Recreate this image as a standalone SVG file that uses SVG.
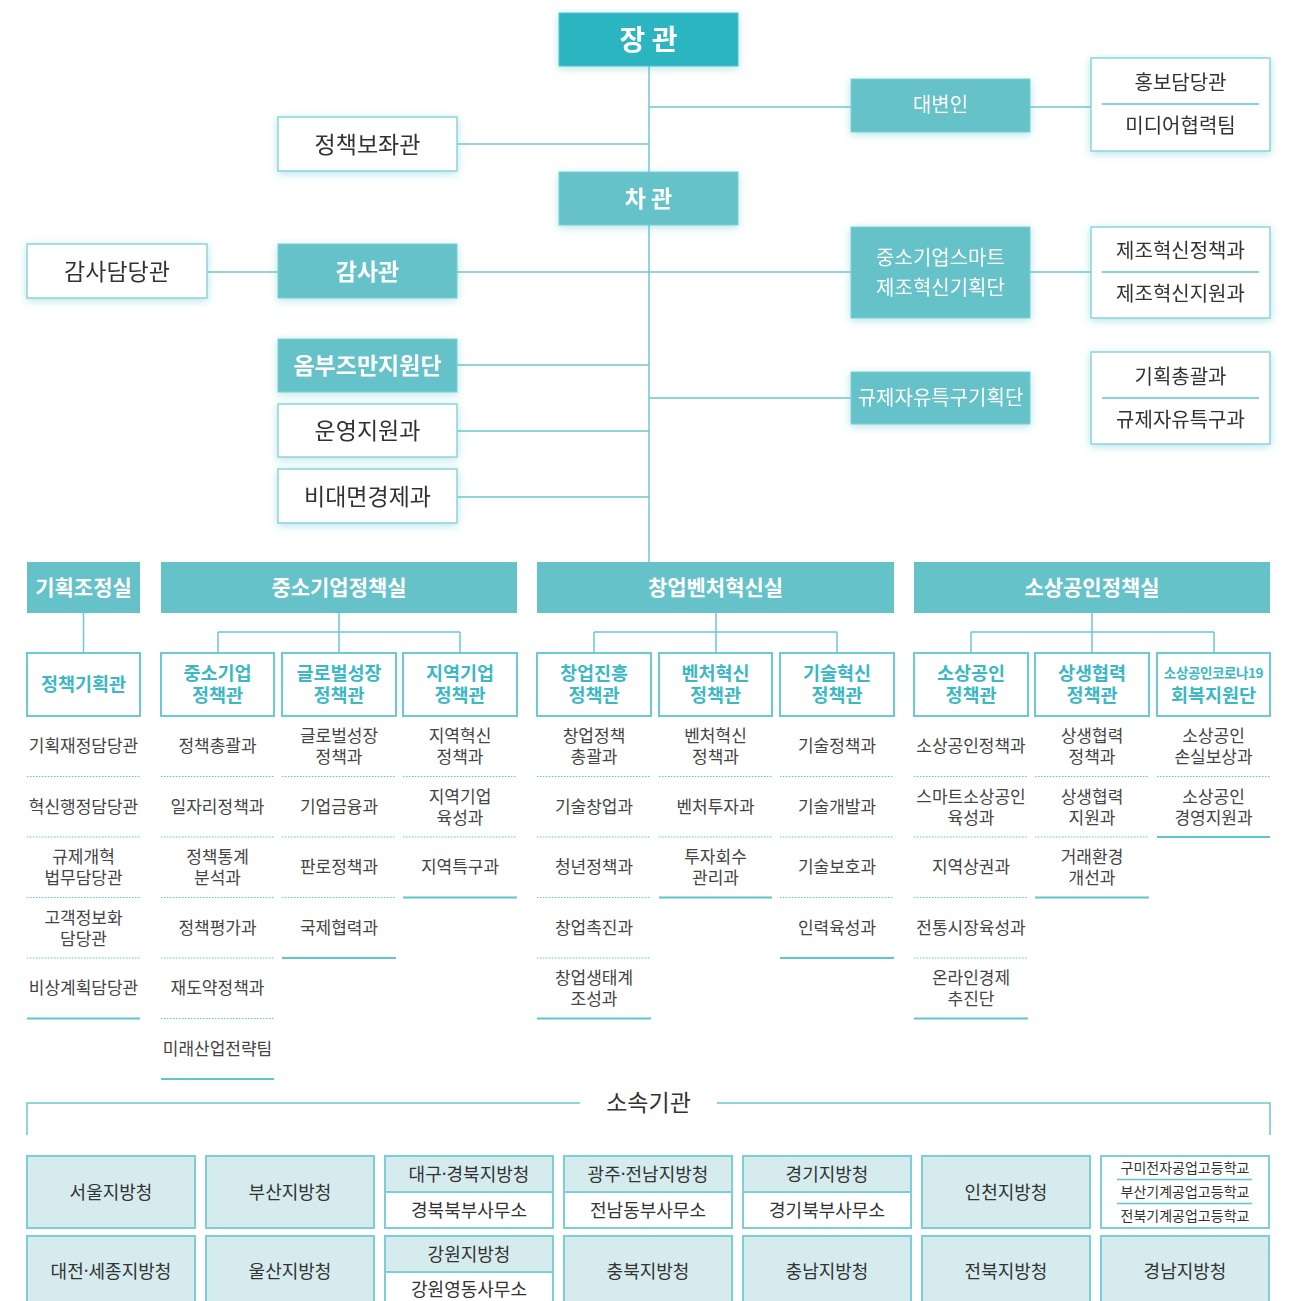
<svg xmlns="http://www.w3.org/2000/svg" width="1291" height="1301" viewBox="0 0 1291 1301">
<defs>
<filter id="glow" x="-20%" y="-40%" width="140%" height="180%">
<feDropShadow dx="0" dy="2" stdDeviation="4" flood-color="#5cc4cc" flood-opacity="0.45"/>
</filter>
<style>
text{font-family:"Noto Sans CJK KR","Noto Sans",sans-serif;text-anchor:middle;dominant-baseline:central}
.conn{stroke:#6ec8cf;stroke-width:1.5;fill:none}
.tb{fill:#65c2c9;stroke:#7fd0d6;stroke-width:1}
.top{fill:#2bb5c1;stroke:#52c3cc;stroke-width:1}
.wb{fill:#fff;stroke:#8dd5da;stroke-width:1.5}
.div{stroke:#5ec7cf;stroke-width:1.5}
.hdr{fill:#65c2c9}
.sub{fill:#fff;stroke:#6ccbd2;stroke-width:2}
.dot{stroke:#5ec6ce;stroke-width:1;stroke-dasharray:1.5 1.5}
.sol{stroke:#5ec6ce;stroke-width:2}
.ag{fill:#d5ebee;stroke:#7ccfd6;stroke-width:2}
.agw{fill:#fff;stroke:#7ccfd6;stroke-width:2}
.tw{fill:#fff}
.td{fill:#333}
.t23{font-size:23px}
.t20{font-size:20px}
.hd{fill:#fff;font-size:21px;font-weight:bold}
.st{fill:#3bb8c3;font-size:18.5px;font-weight:bold}
.it{fill:#444;font-size:17px}
.at{fill:#333;font-size:18px}
.sc{fill:#333;font-size:14px}
.nd{font-family:"Noto Sans","DejaVu Sans",sans-serif}
</style>
</defs>

<g id="connectors">
<path class="conn" d="M649 66V562"/>
<path class="conn" d="M649 107H851M1030 107H1091"/>
<path class="conn" d="M457 144H649"/>
<path class="conn" d="M207 272H278M457 272H851M1030 272H1091"/>
<path class="conn" d="M457 365H649M649 398H851M457 431H649M457 497H649"/>
<path class="conn" d="M83.5 613V653"/>
<path class="conn" d="M339 613V653M218 632H460M218 632V653M460 632V653"/>
<path class="conn" d="M716 613V653M594 632H837M594 632V653M837 632V653"/>
<path class="conn" d="M1092 613V653M971 632H1214M971 632V653M1214 632V653"/>
<path class="conn" d="M27 1135V1103H580M717 1103H1270V1135"/>
</g>

<g id="minister" filter="url(#glow)"><rect class="top" x="559" y="13" width="179" height="53"/><text class="tw" x="648.5" y="38" font-size="28" font-weight="bold">장 관</text></g>
<g id="vice-minister" filter="url(#glow)"><rect class="tb" x="559" y="172" width="179" height="53"/><text class="tw" x="648.5" y="197" font-size="23" font-weight="bold">차 관</text></g>

<g id="spokesperson" filter="url(#glow)"><rect class="tb" x="851" y="79" width="179" height="53"/><text class="tw t20" x="940.5" y="103.5">대변인</text></g>
<g id="spokes-sub" filter="url(#glow)"><rect class="wb" x="1091" y="58" width="179" height="93"/><line class="div" x1="1102" y1="104" x2="1259" y2="104"/><text class="td t20" x="1180.5" y="81">홍보담당관</text><text class="td t20" x="1180.5" y="124">미디어협력팀</text></g>

<g id="smart-mfg" filter="url(#glow)"><rect class="tb" x="851" y="227" width="179" height="91"/><text class="tw t20" x="940.5" y="256"><tspan x="940.5">중소기업스마트</tspan><tspan x="940.5" dy="30">제조혁신기획단</tspan></text></g>
<g id="smart-mfg-sub" filter="url(#glow)"><rect class="wb" x="1091" y="227" width="179" height="91"/><line class="div" x1="1102" y1="272" x2="1259" y2="272"/><text class="td t20" x="1180.5" y="249">제조혁신정책과</text><text class="td t20" x="1180.5" y="292">제조혁신지원과</text></g>

<g id="free-zone" filter="url(#glow)"><rect class="tb" x="851" y="372" width="179" height="52"/><text class="tw t20" x="940.5" y="396.5">규제자유특구기획단</text></g>
<g id="free-zone-sub" filter="url(#glow)"><rect class="wb" x="1091" y="352" width="179" height="92"/><line class="div" x1="1102" y1="398" x2="1259" y2="398"/><text class="td t20" x="1180.5" y="375">기획총괄과</text><text class="td t20" x="1180.5" y="418">규제자유특구과</text></g>

<g id="policy-advisor" filter="url(#glow)"><rect class="wb" x="278" y="117" width="179" height="54"/><text class="td t23" x="367.5" y="142.5">정책보좌관</text></g>
<g id="audit-officer" filter="url(#glow)"><rect class="wb" x="27" y="244" width="180" height="54"/><text class="td t23" x="117" y="269.5">감사담당관</text></g>
<g id="auditor" filter="url(#glow)"><rect class="tb" x="278" y="244" width="179" height="54"/><text class="tw t23" x="367.5" y="269.5" font-weight="bold">감사관</text></g>
<g id="ombudsman" filter="url(#glow)"><rect class="tb" x="278" y="339" width="179" height="53"/><text class="tw t23" x="367.5" y="364" font-weight="bold">옴부즈만지원단</text></g>
<g id="operations" filter="url(#glow)"><rect class="wb" x="278" y="404" width="179" height="53"/><text class="td t23" x="367.5" y="429">운영지원과</text></g>
<g id="untact" filter="url(#glow)"><rect class="wb" x="278" y="469" width="179" height="54"/><text class="td t23" x="367.5" y="494.5">비대면경제과</text></g>

<g id="office-planning"><rect class="hdr" x="27" y="562" width="113" height="51"/><text class="hd" x="83.5" y="586">기획조정실</text></g>
<g id="office-sme"><rect class="hdr" x="161" y="562" width="356" height="51"/><text class="hd" x="339" y="586">중소기업정책실</text></g>
<g id="office-startup"><rect class="hdr" x="537" y="562" width="357" height="51"/><text class="hd" x="715.5" y="586">창업벤처혁신실</text></g>
<g id="office-smallbiz"><rect class="hdr" x="914" y="562" width="356" height="51"/><text class="hd" x="1092" y="586">소상공인정책실</text></g>

<g id="sub-c1"><rect class="sub" x="27" y="653" width="113" height="63"/><text class="st" x="83.5" y="683">정책기획관</text></g>
<g id="sub-c2"><rect class="sub" x="161" y="653" width="113" height="63"/><text class="st" x="217.5" y="671.5"><tspan x="217.5">중소기업</tspan><tspan x="217.5" dy="22">정책관</tspan></text></g>
<g id="sub-c3"><rect class="sub" x="282" y="653" width="114" height="63"/><text class="st" x="339" y="671.5"><tspan x="339">글로벌성장</tspan><tspan x="339" dy="22">정책관</tspan></text></g>
<g id="sub-c4"><rect class="sub" x="403" y="653" width="114" height="63"/><text class="st" x="460" y="671.5"><tspan x="460">지역기업</tspan><tspan x="460" dy="22">정책관</tspan></text></g>
<g id="sub-c5"><rect class="sub" x="537" y="653" width="114" height="63"/><text class="st" x="594" y="671.5"><tspan x="594">창업진흥</tspan><tspan x="594" dy="22">정책관</tspan></text></g>
<g id="sub-c6"><rect class="sub" x="659" y="653" width="113" height="63"/><text class="st" x="715.5" y="671.5"><tspan x="715.5">벤처혁신</tspan><tspan x="715.5" dy="22">정책관</tspan></text></g>
<g id="sub-c7"><rect class="sub" x="780" y="653" width="114" height="63"/><text class="st" x="837" y="671.5"><tspan x="837">기술혁신</tspan><tspan x="837" dy="22">정책관</tspan></text></g>
<g id="sub-c8"><rect class="sub" x="914" y="653" width="114" height="63"/><text class="st" x="971" y="671.5"><tspan x="971">소상공인</tspan><tspan x="971" dy="22">정책관</tspan></text></g>
<g id="sub-c9"><rect class="sub" x="1035" y="653" width="114" height="63"/><text class="st" x="1092" y="671.5"><tspan x="1092">상생협력</tspan><tspan x="1092" dy="22">정책관</tspan></text></g>
<g id="sub-c10"><rect class="sub" x="1157" y="653" width="113" height="63"/><text class="st" x="1213.5" y="671.5"><tspan x="1213.5" font-size="13.5" letter-spacing="-0.4">소상공인코로나19</tspan><tspan x="1213.5" dy="22">회복지원단</tspan></text></g>

<g id="items-c1">
<text class="it" x="83.5" y="744.5">기획재정담당관</text>
<text class="it" x="83.5" y="805">혁신행정담당관</text>
<text class="it" x="83.5" y="855"><tspan x="83.5">규제개혁</tspan><tspan x="83.5" dy="21">법무담당관</tspan></text>
<text class="it" x="83.5" y="915.5"><tspan x="83.5">고객정보화</tspan><tspan x="83.5" dy="21">담당관</tspan></text>
<text class="it" x="83.5" y="986.5">비상계획담당관</text>
<path class="dot" d="M27 776.5H140M27 837H140M27 897.5H140M27 958H140"/><path class="sol" d="M27 1018.5H140"/>
</g>
<g id="items-c2">
<text class="it" x="217.5" y="744.5">정책총괄과</text>
<text class="it" x="217.5" y="805">일자리정책과</text>
<text class="it" x="217.5" y="855"><tspan x="217.5">정책통계</tspan><tspan x="217.5" dy="21">분석과</tspan></text>
<text class="it" x="217.5" y="926">정책평가과</text>
<text class="it" x="217.5" y="986.5">재도약정책과</text>
<text class="it" x="217.5" y="1047">미래산업전략팀</text>
<path class="dot" d="M161 776.5H274M161 837H274M161 897.5H274M161 958H274M161 1018.5H274"/><path class="sol" d="M161 1079H274"/>
</g>
<g id="items-c3">
<text class="it" x="339" y="734"><tspan x="339">글로벌성장</tspan><tspan x="339" dy="21">정책과</tspan></text>
<text class="it" x="339" y="805">기업금융과</text>
<text class="it" x="339" y="865.5">판로정책과</text>
<text class="it" x="339" y="926">국제협력과</text>
<path class="dot" d="M282 776.5H396M282 837H396M282 897.5H396"/><path class="sol" d="M282 958H396"/>
</g>
<g id="items-c4">
<text class="it" x="460" y="734"><tspan x="460">지역혁신</tspan><tspan x="460" dy="21">정책과</tspan></text>
<text class="it" x="460" y="794.5"><tspan x="460">지역기업</tspan><tspan x="460" dy="21">육성과</tspan></text>
<text class="it" x="460" y="865.5">지역특구과</text>
<path class="dot" d="M403 776.5H517M403 837H517"/><path class="sol" d="M403 897.5H517"/>
</g>
<g id="items-c5">
<text class="it" x="594" y="734"><tspan x="594">창업정책</tspan><tspan x="594" dy="21">총괄과</tspan></text>
<text class="it" x="594" y="805">기술창업과</text>
<text class="it" x="594" y="865.5">청년정책과</text>
<text class="it" x="594" y="926">창업촉진과</text>
<text class="it" x="594" y="976"><tspan x="594">창업생태계</tspan><tspan x="594" dy="21">조성과</tspan></text>
<path class="dot" d="M537 776.5H651M537 837H651M537 897.5H651M537 958H651"/><path class="sol" d="M537 1018.5H651"/>
</g>
<g id="items-c6">
<text class="it" x="715.5" y="734"><tspan x="715.5">벤처혁신</tspan><tspan x="715.5" dy="21">정책과</tspan></text>
<text class="it" x="715.5" y="805">벤처투자과</text>
<text class="it" x="715.5" y="855"><tspan x="715.5">투자회수</tspan><tspan x="715.5" dy="21">관리과</tspan></text>
<path class="dot" d="M659 776.5H772M659 837H772"/><path class="sol" d="M659 897.5H772"/>
</g>
<g id="items-c7">
<text class="it" x="837" y="744.5">기술정책과</text>
<text class="it" x="837" y="805">기술개발과</text>
<text class="it" x="837" y="865.5">기술보호과</text>
<text class="it" x="837" y="926">인력육성과</text>
<path class="dot" d="M780 776.5H894M780 837H894M780 897.5H894"/><path class="sol" d="M780 958H894"/>
</g>
<g id="items-c8">
<text class="it" x="971" y="744.5">소상공인정책과</text>
<text class="it" x="971" y="794.5"><tspan x="971">스마트소상공인</tspan><tspan x="971" dy="21">육성과</tspan></text>
<text class="it" x="971" y="865.5">지역상권과</text>
<text class="it" x="971" y="926">전통시장육성과</text>
<text class="it" x="971" y="976"><tspan x="971">온라인경제</tspan><tspan x="971" dy="21">추진단</tspan></text>
<path class="dot" d="M914 776.5H1028M914 837H1028M914 897.5H1028M914 958H1028"/><path class="sol" d="M914 1018.5H1028"/>
</g>
<g id="items-c9">
<text class="it" x="1092" y="734"><tspan x="1092">상생협력</tspan><tspan x="1092" dy="21">정책과</tspan></text>
<text class="it" x="1092" y="794.5"><tspan x="1092">상생협력</tspan><tspan x="1092" dy="21">지원과</tspan></text>
<text class="it" x="1092" y="855"><tspan x="1092">거래환경</tspan><tspan x="1092" dy="21">개선과</tspan></text>
<path class="dot" d="M1035 776.5H1149M1035 837H1149"/><path class="sol" d="M1035 897.5H1149"/>
</g>
<g id="items-c10">
<text class="it" x="1213.5" y="734"><tspan x="1213.5">소상공인</tspan><tspan x="1213.5" dy="21">손실보상과</tspan></text>
<text class="it" x="1213.5" y="794.5"><tspan x="1213.5">소상공인</tspan><tspan x="1213.5" dy="21">경영지원과</tspan></text>
<path class="dot" d="M1157 776.5H1270"/><path class="sol" d="M1157 837H1270"/>
</g>

<g id="affiliated-title"><text class="td" x="648.5" y="1100.5" font-size="23">소속기관</text></g>

<g id="ag-seoul"><rect class="ag" x="27" y="1156" width="168" height="72"/><text class="at" x="111" y="1190.5">서울지방청</text></g>
<g id="ag-busan"><rect class="ag" x="206" y="1156" width="168" height="72"/><text class="at" x="290" y="1190.5">부산지방청</text></g>
<g id="ag-daegu"><rect class="agw" x="385" y="1156" width="168" height="72"/><rect class="ag" x="385" y="1156" width="168" height="36"/><text class="at" x="469" y="1172.5">대구<tspan class="nd">·</tspan>경북지방청</text><text class="at" x="469" y="1208.5">경북북부사무소</text></g>
<g id="ag-gwangju"><rect class="agw" x="564" y="1156" width="168" height="72"/><rect class="ag" x="564" y="1156" width="168" height="36"/><text class="at" x="648" y="1172.5">광주<tspan class="nd">·</tspan>전남지방청</text><text class="at" x="648" y="1208.5">전남동부사무소</text></g>
<g id="ag-gyeonggi"><rect class="agw" x="743" y="1156" width="168" height="72"/><rect class="ag" x="743" y="1156" width="168" height="36"/><text class="at" x="827" y="1172.5">경기지방청</text><text class="at" x="827" y="1208.5">경기북부사무소</text></g>
<g id="ag-incheon"><rect class="ag" x="922" y="1156" width="168" height="72"/><text class="at" x="1006" y="1190.5">인천지방청</text></g>
<g id="ag-schools"><rect class="agw" x="1101" y="1156" width="168" height="72"/><line class="div" x1="1117" y1="1179.5" x2="1252" y2="1179.5"/><line class="div" x1="1117" y1="1203.5" x2="1252" y2="1203.5"/><text class="sc" x="1185" y="1166.5"><tspan x="1185">구미전자공업고등학교</tspan><tspan x="1185" dy="24">부산기계공업고등학교</tspan><tspan x="1185" dy="24">전북기계공업고등학교</tspan></text></g>

<g id="ag-daejeon"><rect class="ag" x="27" y="1236" width="168" height="72"/><text class="at" x="111" y="1269.5">대전<tspan class="nd">·</tspan>세종지방청</text></g>
<g id="ag-ulsan"><rect class="ag" x="206" y="1236" width="168" height="72"/><text class="at" x="290" y="1269.5">울산지방청</text></g>
<g id="ag-gangwon"><rect class="agw" x="385" y="1236" width="168" height="72"/><rect class="ag" x="385" y="1236" width="168" height="36"/><text class="at" x="469" y="1252.5">강원지방청</text><text class="at" x="469" y="1288">강원영동사무소</text></g>
<g id="ag-chungbuk"><rect class="ag" x="564" y="1236" width="168" height="72"/><text class="at" x="648" y="1269.5">충북지방청</text></g>
<g id="ag-chungnam"><rect class="ag" x="743" y="1236" width="168" height="72"/><text class="at" x="827" y="1269.5">충남지방청</text></g>
<g id="ag-jeonbuk"><rect class="ag" x="922" y="1236" width="168" height="72"/><text class="at" x="1006" y="1269.5">전북지방청</text></g>
<g id="ag-gyeongnam"><rect class="ag" x="1101" y="1236" width="168" height="72"/><text class="at" x="1185" y="1269.5">경남지방청</text></g>
</svg>
